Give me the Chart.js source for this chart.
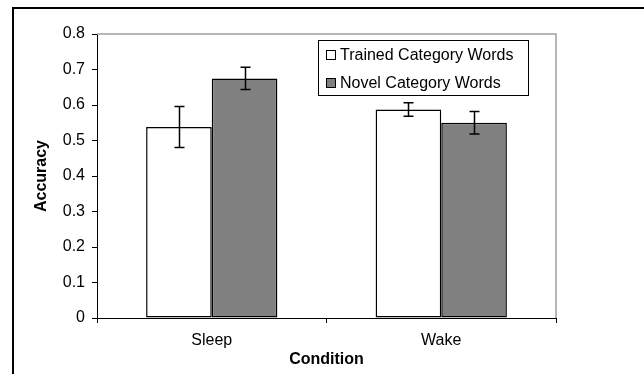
<!DOCTYPE html>
<html>
<head>
<meta charset="utf-8">
<script src="https://cdn.jsdelivr.net/npm/chart.js@4.4.0/dist/chart.umd.min.js"></script>
<style>
  html, body { margin: 0; padding: 0; background: #fff; }
  #wrap { width: 644px; height: 375px; }
</style>
</head>
<body>
<div id="wrap"><canvas id="c" width="644" height="375"></canvas></div>
<script>
const categories = ['Sleep', 'Wake'];
const trainedValues = [0.538, 0.587];
const trainedErrors = [0.058, 0.019];
const novelValues = [0.675, 0.550];
const novelErrors = [0.031, 0.032];
const seriesLabels = ['Trained Category Words', 'Novel Category Words'];
const yMin = 0, yMax = 0.8, yStep = 0.1;
const xTitle = 'Condition';
const yTitle = 'Accuracy';

const FONT = "'Liberation Sans', Arial, sans-serif";

const errorBars = {
  id: 'errorBars',
  afterDatasetsDraw(chart) {
    const ctx = chart.ctx;
    const ys = chart.scales.y;
    ctx.save();
    ctx.strokeStyle = '#000';
    ctx.lineWidth = 1.5;
    chart.data.datasets.forEach((ds, i) => {
      const meta = chart.getDatasetMeta(i);
      meta.data.forEach((bar, j) => {
        const v = ds.data[j], e = ds.errors[j];
        const x = Math.round(bar.x) + 0.5;
        const yt = ys.getPixelForValue(v + e);
        const yb = ys.getPixelForValue(v - e);
        const cap = 5;
        ctx.beginPath();
        ctx.moveTo(x, yt); ctx.lineTo(x, yb);
        ctx.moveTo(x - cap, yt); ctx.lineTo(x + cap, yt);
        ctx.moveTo(x - cap, yb); ctx.lineTo(x + cap, yb);
        ctx.stroke();
      });
    });
    ctx.restore();
  }
};

const frame = {
  id: 'frame',
  beforeDraw(chart) {
    const ctx = chart.ctx;
    ctx.save();
    ctx.fillStyle = '#fff';
    ctx.fillRect(0, 0, chart.width, chart.height);
    ctx.restore();
  },
  afterDraw(chart) {
    const ctx = chart.ctx;
    const a = chart.chartArea;
    ctx.save();
    // plot area top/right border (gray)
    ctx.strokeStyle = '#a0a0a0';
    ctx.lineWidth = 1.5;
    ctx.beginPath();
    ctx.moveTo(a.left, a.top);
    ctx.lineTo(a.right, a.top);
    ctx.lineTo(a.right, a.bottom);
    ctx.stroke();
    // outer frame
    ctx.strokeStyle = '#000';
    ctx.lineWidth = 2;
    ctx.beginPath();
    ctx.moveTo(13, 374);
    ctx.lineTo(13, 8);
    ctx.lineTo(644, 8);
    ctx.stroke();
    // legend
    const lx = 318.5, ly = 40.5, lw = 210, lh = 55;
    ctx.fillStyle = '#fff';
    ctx.fillRect(lx, ly, lw, lh);
    ctx.strokeStyle = '#000';
    ctx.lineWidth = 1;
    ctx.strokeRect(lx, ly, lw, lh);
    ctx.font = '16px ' + FONT;
    ctx.textBaseline = 'middle';
    ctx.textAlign = 'left';
    chart.data.datasets.forEach((ds, i) => {
      const cy = 55 + i * 28;
      ctx.fillStyle = ds.backgroundColor;
      ctx.fillRect(326.5, cy - 4.5, 9, 9);
      ctx.strokeRect(326.5, cy - 4.5, 9, 9);
      ctx.fillStyle = '#000';
      ctx.fillText(ds.label, 340, cy + 0.5);
    });
    ctx.restore();
  }
};

new Chart(document.getElementById('c'), {
  type: 'bar',
  data: {
    labels: categories,
    datasets: [
      { label: seriesLabels[0], data: trainedValues, errors: trainedErrors,
        backgroundColor: '#ffffff', borderColor: '#000', borderWidth: 1.5, borderSkipped: false },
      { label: seriesLabels[1], data: novelValues, errors: novelErrors,
        backgroundColor: '#808080', borderColor: '#000', borderWidth: 1.5, borderSkipped: false }
    ]
  },
  options: {
    responsive: false,
    animation: false,
    devicePixelRatio: 1,
    layout: { padding: { left: 0, right: 88, top: 34, bottom: 0 } },
    datasets: { bar: { categoryPercentage: 0.572, barPercentage: 1.0 } },
    plugins: { legend: { display: false }, tooltip: { enabled: false } },
    scales: {
      x: {
        grid: { display: true, drawOnChartArea: false, drawTicks: true, tickLength: 5, color: '#000', offset: true },
        border: { color: '#000', width: 1 },
        ticks: { color: '#000', font: { family: FONT, size: 16 }, padding: 8 },
        title: { display: true, text: xTitle, color: '#000',
                 font: { family: FONT, size: 16, weight: 'bold' }, padding: { top: 0, bottom: 6 } },
        afterFit(s) { s.height = 57; }
      },
      y: {
        min: yMin, max: yMax,
        grid: { display: true, drawOnChartArea: false, drawTicks: true, tickLength: 5, color: '#000' },
        border: { color: '#000', width: 1 },
        ticks: { stepSize: yStep, color: '#000', font: { family: FONT, size: 16 }, padding: 7,
                 callback: v => String(Number(v.toFixed(1))) },
        title: { display: true, text: yTitle, color: '#000',
                 font: { family: FONT, size: 16, weight: 'bold' }, padding: { top: 32, bottom: 0 } },
        afterFit(s) { s.width = 97; }
      }
    }
  },
  plugins: [frame, errorBars]
});
</script>
</body>
</html>
